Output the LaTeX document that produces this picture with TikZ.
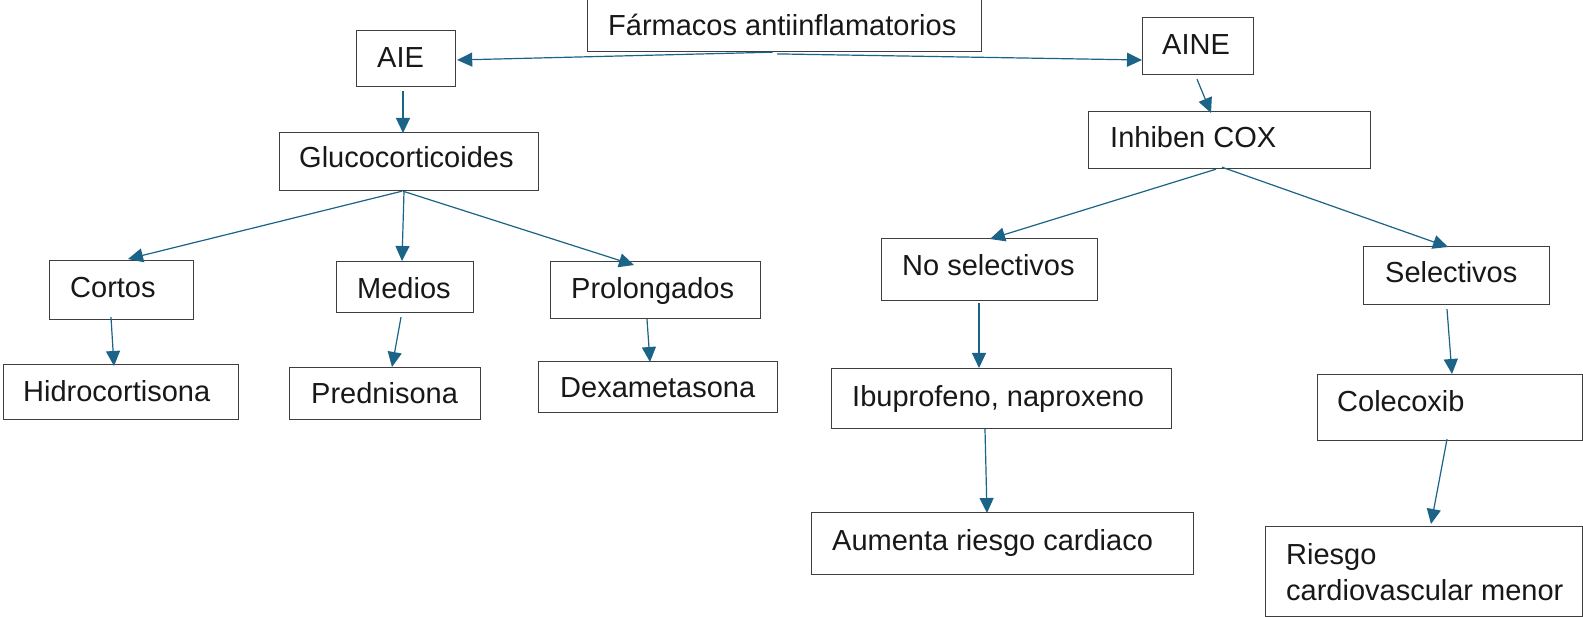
\documentclass[tikz,border=0pt]{standalone}
\usepackage{fontspec}
\setmainfont{Liberation Sans}
\usetikzlibrary{arrows.meta,calc}
\definecolor{arrowc}{RGB}{27,99,135}
\definecolor{boxc}{RGB}{62,62,62}
\definecolor{txtc}{RGB}{24,24,24}
\begin{document}
\begin{tikzpicture}[x=1pt,y=-1pt,
  box/.style={draw=boxc,line width=1.2pt,inner sep=0pt,anchor=north west},
  txt/.style={anchor=base west,inner sep=0pt,font=\fontsize{29}{36}\selectfont,text=txtc},
  conn/.style={draw=arrowc,line width=1.2pt,-{Triangle[length=15pt,width=14pt]}}]
\useasboundingbox (0,0) rectangle (1583,617);
\fill[white] (0,0) rectangle (1583,617);

% boxes
\node[box,minimum width=394pt,minimum height=54pt] (far) at (587,-3) {};
\node[box,minimum width=99pt,minimum height=56pt] (aie) at (356,30) {};
\node[box,minimum width=111pt,minimum height=57pt] (aine) at (1142,17) {};
\node[box,minimum width=259pt,minimum height=58pt] (gluco) at (279,132) {};
\node[box,minimum width=282pt,minimum height=57pt] (inhiben) at (1088,111) {};
\node[box,minimum width=144pt,minimum height=59pt] (cortos) at (49,260) {};
\node[box,minimum width=137pt,minimum height=51pt] (medios) at (336,261) {};
\node[box,minimum width=210pt,minimum height=57pt] (prolong) at (550,261) {};
\node[box,minimum width=216pt,minimum height=62pt] (nosel) at (881,238) {};
\node[box,minimum width=186pt,minimum height=58pt] (sel) at (1363,246) {};
\node[box,minimum width=235pt,minimum height=55pt] (hidro) at (3,364) {};
\node[box,minimum width=191pt,minimum height=52pt] (pred) at (289,367) {};
\node[box,minimum width=239pt,minimum height=51pt] (dexa) at (538,361) {};
\node[box,minimum width=340pt,minimum height=60pt] (ibu) at (831,368) {};
\node[box,minimum width=265pt,minimum height=66pt] (cole) at (1317,374) {};
\node[box,minimum width=382pt,minimum height=62pt] (aumenta) at (811,512) {};
\node[box,minimum width=317pt,minimum height=90pt] (riesgo) at (1265,526) {};

% texts
\node[txt] (tfar) at (608,36) {Fármacos antiinflamatorios};
\node[txt] (taie) at (377,68) {AIE};
\node[txt] (taine) at (1162,55) {AINE};
\node[txt] (tgluco) at (299,168) {Glucocorticoides};
\node[txt] (tinhiben) at (1110,148) {Inhiben COX};
\node[txt] (tcortos) at (70,298) {Cortos};
\node[txt] (tmedios) at (357,299) {Medios};
\node[txt] (tprolong) at (571,299) {Prolongados};
\node[txt] (tnosel) at (902,276) {No selectivos};
\node[txt] (tsel) at (1385,283) {Selectivos};
\node[txt] (thidro) at (23,402) {Hidrocortisona};
\node[txt] (tpred) at (311,404) {Prednisona};
\node[txt] (tdexa) at (560,398) {Dexametasona};
\node[txt] (tibu) at (852,407) {Ibuprofeno, naproxeno};
\node[txt] (tcole) at (1337,412) {Colecoxib};
\node[txt] (taumenta) at (832,550) {Aumenta riesgo cardiaco};
\node[txt] (triesgoa) at (1286,564) {Riesgo};
\node[txt] (triesgob) at (1286,600) {cardiovascular menor};

% connectors
\draw[conn] ($(far.south west)+(185.7,0)$) -- ($(aie.north east)+(1,30)$);
\draw[conn] ($(far.south west)+(190,1.7)$) -- ($(aine.north west)+(0,43)$);
\draw[conn] ($(aie.south west)+(47,4)$) -- ($(gluco.north west)+(124,1)$);
\draw[conn] ($(aine.south west)+(55,4)$) -- ($(inhiben.north west)+(123,2)$);
\draw[conn] ($(gluco.south west)+(123,0)$) -- ($(cortos.north west)+(79,-1)$);
\draw[conn] ($(gluco.south west)+(125,0)$) -- ($(medios.north west)+(66,0)$);
\draw[conn] ($(gluco.south west)+(124,0)$) -- ($(prolong.north west)+(84,4)$);
\draw[conn] ($(cortos.south west)+(62,-3)$) -- ($(hidro.north west)+(111,2)$);
\draw[conn] ($(medios.south west)+(65,4)$) -- ($(pred.north west)+(103,0)$);
\draw[conn] ($(prolong.south west)+(97,0)$) -- ($(dexa.north west)+(112,1)$);
\draw[conn] ($(inhiben.south west)+(128,0)$) -- ($(nosel.north west)+(109,1)$);
\draw[conn] ($(inhiben.south west)+(134,-2)$) -- ($(sel.north west)+(85,1)$);
\draw[conn] ($(nosel.south west)+(98,2)$) -- ($(ibu.north west)+(148,0)$);
\draw[conn] ($(sel.south west)+(84,4)$) -- ($(cole.north west)+(135,0)$);
\draw[conn] ($(ibu.south west)+(154,0)$) -- ($(aumenta.north west)+(176,1)$);
\draw[conn] ($(cole.south west)+(130,-2)$) -- ($(riesgo.north west)+(166,-2)$);
\end{tikzpicture}
\end{document}
